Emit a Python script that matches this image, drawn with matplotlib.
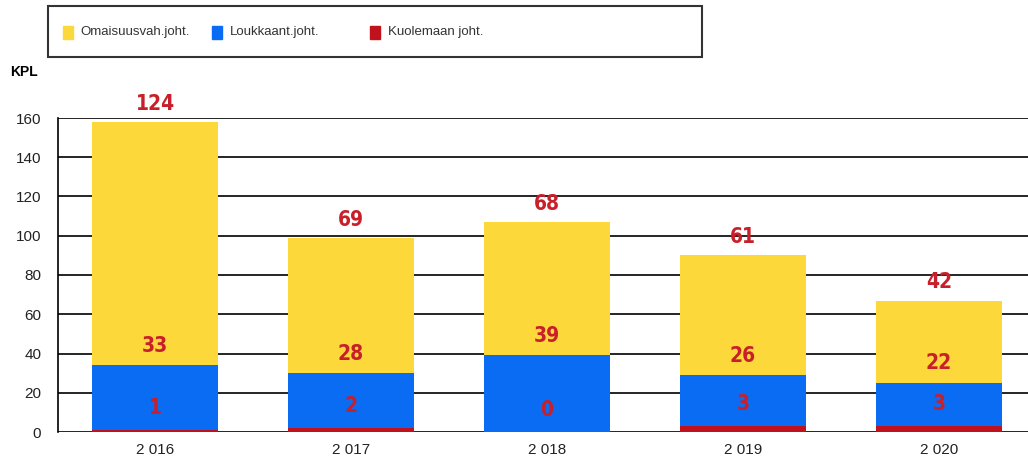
import matplotlib.pyplot as plt
from matplotlib.patches import Rectangle

years = ["2 016", "2 017", "2 018", "2 019", "2 020"]
kuolemaan = [1, 2, 0, 3, 3]
loukkaant = [33, 28, 39, 26, 22]
omaisuus = [124, 69, 68, 61, 42]

yellow = "#fdd83a"
blue = "#0a6cf2"
red = "#c0121c"
labcol = "#c8202a"

plt.rcParams['font.family'] = ['Liberation Sans', 'DejaVu Sans']

fig = plt.figure(figsize=(10.28, 4.68), dpi=100)
ax = fig.add_axes([58 / 1028, 36 / 468, 1 - 58 / 1028, 314 / 468])

x = list(range(len(years)))
w = 0.643
b2 = [k + l for k, l in zip(kuolemaan, loukkaant)]
ax.bar(x, kuolemaan, w, color=red, zorder=2)
ax.bar(x, loukkaant, w, bottom=kuolemaan, color=blue, zorder=2)
ax.bar(x, omaisuus, w, bottom=b2, color=yellow, zorder=2)

lab = dict(color=labcol, fontsize=15, fontweight="bold", ha="center", va="center",
           textcoords="offset points", zorder=4, annotation_clip=False,
           family="DejaVu Sans", fontstretch="condensed")
for i in x:
    ax.annotate(str(omaisuus[i]), (i, b2[i] + omaisuus[i]), xytext=(0, 13), **lab)
    ax.annotate(str(loukkaant[i]), (i, b2[i]), xytext=(0, 14), **lab)
    ax.annotate(str(kuolemaan[i]), (i, kuolemaan[i]), xytext=(0, 16), **lab)

ax.set_ylim(0, 160)
ax.set_xlim(-0.495, 4.454)
ax.set_yticks(range(0, 161, 20))
ax.set_xticks(x)
ax.set_xticklabels(years)
ax.yaxis.grid(True, color="black", linewidth=1.2, zorder=1)
ax.set_axisbelow(True)
for s in ["top", "right", "bottom"]:
    ax.spines[s].set_visible(False)
ax.spines["left"].set_linewidth(1.2)
ax.tick_params(axis="both", length=0, labelsize=11, colors="#222222")
ax.tick_params(axis="y", pad=12)
ax.tick_params(axis="x", pad=8)

fig.text(10 / 1028, 1 - 72 / 468, "KPL", fontsize=10, fontweight="bold", va="center")

# legend box
fig.patches.append(Rectangle((48 / 1028, 1 - 57 / 468), (702 - 48) / 1028, 51 / 468,
                             transform=fig.transFigure, fill=False, edgecolor="#333333",
                             linewidth=1.5))
items = [("Omaisuusvah.joht.", yellow, 63, 80), ("Loukkaant.joht.", blue, 212, 230),
         ("Kuolemaan joht.", red, 370, 388)]
for name, c, sx, tx in items:
    fig.patches.append(Rectangle((sx / 1028, 1 - 39 / 468), 10 / 1028, 13 / 468,
                                 transform=fig.transFigure, color=c))
    fig.text(tx / 1028, 1 - 32 / 468, name, fontsize=9.5, color="#333333", va="center")

plt.savefig("out.png")
